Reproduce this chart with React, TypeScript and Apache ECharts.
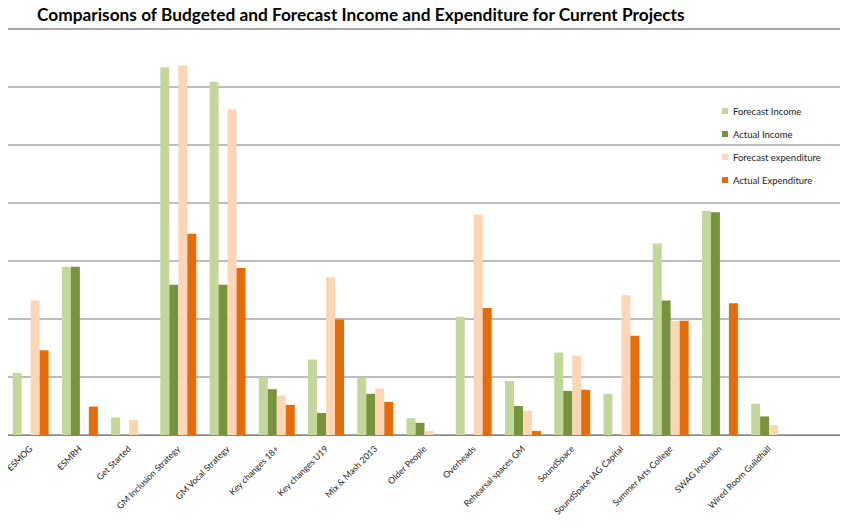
import React from 'react';
import * as echarts from 'echarts';

// project names (last slot is empty in the original sheet)
const categories = [
  'ESMOG',
  'ESMRH',
  'Get Started',
  'GM Inclusion Strategy',
  'GM Vocal Strategy',
  'Key changes 18+',
  'Key changes U19',
  'Mix & Mash 2013',
  'Older People',
  'Overheads',
  'Rehearsal spaces GM',
  'SoundSpace',
  'SoundSpace IAG Capital',
  'Summer Arts College',
  'SWAG Inclusion',
  'Wired Room Guildhall',
  '',
];

// values, in gridline units
const forecastIncome = [1.07, 2.9, 0.3, 6.34, 6.09, 1.0, 1.3, 0.99, 0.29, 2.04, 0.93, 1.42, 0.71, 3.3, 3.86, 0.54, null];
const actualIncome = [0, 2.9, 0, 2.59, 2.59, 0.79, 0.38, 0.71, 0.21, 0, 0.5, 0.76, 0, 2.32, 3.84, 0.32, null];
const forecastExpenditure = [2.32, 0, 0.26, 6.37, 5.61, 0.68, 2.72, 0.8, 0.07, 3.8, 0.42, 1.37, 2.41, 1.97, 0, 0.17, null];
const actualExpenditure = [1.46, 0.49, 0, 3.47, 2.88, 0.52, 1.99, 0.57, 0, 2.19, 0.07, 0.78, 1.71, 1.97, 2.27, 0, null];

const seriesNames = ['Forecast Income', 'Actual Income', 'Forecast expenditure', 'Actual Expenditure'];
const seriesColors = ['#c4d79b', '#77933c', '#fcd5b5', '#e46c0a'];

const App = () => {
  const chartRef = React.useRef(null);

  React.useEffect(() => {
    const myChart = echarts.init(chartRef.current, null, { renderer: 'svg' });
    const allData = [forecastIncome, actualIncome, forecastExpenditure, actualExpenditure];

    const option: any = {
      animation: false,
      textStyle: { fontFamily: 'Lato' },
      title: {
        text: 'Comparisons of Budgeted and Forecast Income and Expenditure for Current Projects',
        left: 32,
        top: 1,
        textStyle: { fontFamily: 'Lato', fontWeight: 'bold', fontSize: 17.3, color: '#000' },
      },
      legend: {
        orient: 'vertical',
        left: 722,
        top: 106,
        padding: 0,
        itemWidth: 6,
        itemHeight: 6,
        itemGap: 13,
        icon: 'rect',
        textStyle: { fontSize: 9.5, color: '#222' },
        data: seriesNames,
      },
      grid: {
        left: 6,
        right: 5,
        top: 29,
        bottom: 92,
        outerBoundsMode: 'none',
        show: true,
        borderColor: '#555',
        borderWidth: 1,
      },
      xAxis: {
        type: 'category',
        data: categories,
        axisLine: { lineStyle: { color: '#888' } },
        axisTick: { length: 5, lineStyle: { color: '#888' } },
        axisLabel: { rotate: 45, fontSize: 8.8, color: '#222', margin: 12, interval: 0 },
      },
      yAxis: {
        type: 'value',
        min: 0,
        max: 7,
        interval: 1,
        axisLabel: { show: false },
        axisLine: { show: true, lineStyle: { color: '#555' } },
        axisTick: { show: true, length: 3, lineStyle: { color: '#555' } },
        splitLine: { lineStyle: { color: '#a6a6a6', width: 1.5 } },
      },
      series: seriesNames.map((name, i) => ({
        name,
        type: 'bar',
        data: allData[i],
        barGap: '0%',
        barCategoryGap: '27%',
        itemStyle: { color: seriesColors[i] },
      })),
    };

    myChart.setOption(option);
    return () => {
      myChart.dispose();
    };
  }, []);

  return <div ref={chartRef} style={{ width: '848px', height: '527px', margin: '-8px' }} />;
};

export default App;
